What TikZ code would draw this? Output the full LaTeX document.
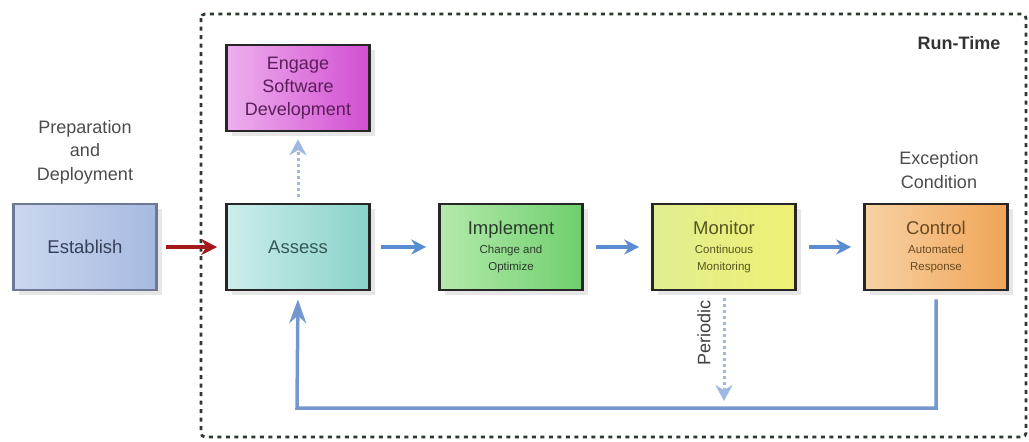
\documentclass[tikz,border=0pt]{standalone}
\usepackage{fontspec}
\setmainfont{Liberation Sans}
\usetikzlibrary{arrows.meta,shadows,calc}
\definecolor{frame}{HTML}{2C3A2E}
\definecolor{flow}{HTML}{5A8CD2}
\definecolor{feed}{HTML}{7597CF}
\definecolor{pale}{HTML}{9DB8E2}
\definecolor{estA}{HTML}{CCD7EE}\definecolor{estB}{HTML}{A6BAE0}\definecolor{estT}{HTML}{364058}\definecolor{estD}{HTML}{6C7894}
\definecolor{assA}{HTML}{CDEEEA}\definecolor{assB}{HTML}{88D2C9}\definecolor{assT}{HTML}{355A55}
\definecolor{engA}{HTML}{EEB0EE}\definecolor{engB}{HTML}{D24ED2}\definecolor{engT}{HTML}{5A1E5A}
\definecolor{impA}{HTML}{B4EAAC}\definecolor{impB}{HTML}{6ECF6C}\definecolor{impT}{HTML}{2C3C2C}
\definecolor{monA}{HTML}{E2EE92}\definecolor{monB}{HTML}{EEF072}\definecolor{monT}{HTML}{54561E}
\definecolor{ctlA}{HTML}{F8D2A4}\definecolor{ctlB}{HTML}{F0A456}\definecolor{ctlT}{HTML}{6A4A22}
\newcommand\smalltxt{\fontsize{11.5}{13}\selectfont}
\begin{document}
\begin{tikzpicture}[x=1pt,y=-1pt,
  stage/.style={draw=black!85,line width=2.6pt,minimum width=143pt,minimum height=86pt,
    align=center,font=\fontsize{18.5}{20}\selectfont,drop shadow={opacity=0.2,shadow xshift=5pt,shadow yshift=-5pt}},
  lbl/.style={align=center,text=black!70,font=\fontsize{18}{23.5}\selectfont},
  flowarrow/.style={draw=flow,line width=3.5pt,-{Stealth[length=15pt,width=15pt]}},
  dasharrow/.style={draw=pale,line width=3pt,dash pattern=on 3pt off 3pt,-{Stealth[length=16pt,width=17pt]}}]
\useasboundingbox (0,0) rectangle (1029,442);
% run-time frame
\draw[frame,line width=2.8pt,dash pattern=on 4pt off 4.5pt,rounded corners=4pt] (201,14) rectangle (1026,437);
\node[font=\bfseries\fontsize{18}{20}\selectfont,text=black!80] (rt) at (959,43) {Run-Time};
% stages
\node[stage,draw=estD,line width=2.4pt,left color=estA,right color=estB,text=estT] (est) at (85,247) {Establish};
\node[stage,left color=assA,right color=assB,text=assT] (assess) at (298,247) {Assess};
\node[stage,left color=engA,right color=engB,text=engT,font=\fontsize{18}{23}\selectfont] (eng) at (298,88) {Engage\\Software\\Development};
\node[stage,left color=impA,right color=impB,text=impT] (impl) at (511,247) {\raisebox{4pt}{Implement}\\[-5pt]{\smalltxt Change and}\\[-3pt]{\smalltxt Optimize}};
\node[stage,left color=monA,right color=monB,text=monT] (mon) at (724,247) {\raisebox{4pt}{Monitor}\\[-5pt]{\smalltxt Continuous}\\[-3pt]{\smalltxt Monitoring}};
\node[stage,left color=ctlA,right color=ctlB,text=ctlT] (ctl) at (936,247) {\raisebox{4pt}{Control}\\[-5pt]{\smalltxt Automated}\\[-3pt]{\smalltxt Response}};
% labels
\node[lbl] (prep) at (85,152) {Preparation\\and\\Deployment};
\node[lbl] (exc) at (939,170) {Exception\\Condition};
% arrows
\draw[draw=red!60!black!90,line width=3.5pt,-{Stealth[length=16pt,width=16pt]},shorten <=8pt,shorten >=8pt] (est.east) -- (assess.west);
\draw[flowarrow,shorten <=10pt,shorten >=12pt] (assess.east) -- (impl.west);
\draw[flowarrow,shorten <=12pt,shorten >=12pt] (impl.east) -- (mon.west);
\draw[flowarrow,shorten <=12pt,shorten >=12pt] (mon.east) -- (ctl.west);
\draw[dasharrow,shorten <=6pt,shorten >=7pt] (assess.north) -- (eng.south);
% feedback loop
\coordinate (loop) at (297,408);
\draw[draw=feed,line width=3.5pt,-{Stealth[length=24pt,width=17pt]},shorten <=8pt,shorten >=8pt] (ctl.south) -- (ctl.south |- loop) -- (loop) -- (assess.south);
% periodic
\coordinate (per) at (724,401);
\draw[dasharrow,shorten <=7pt] (mon.south) -- (per);
\node[rotate=90,font=\fontsize{18}{20}\selectfont,text=black!75] (plab) at (704,333) {Periodic};
\end{tikzpicture}
\end{document}
